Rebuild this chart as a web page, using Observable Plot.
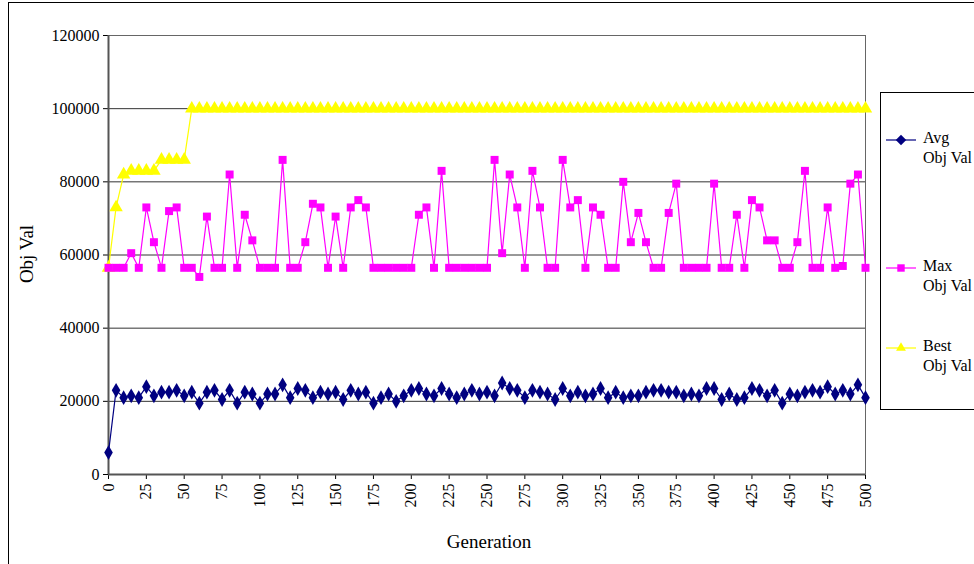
<!DOCTYPE html>
<html><head><meta charset="utf-8">
<script src="https://cdn.jsdelivr.net/npm/d3@7"></script>
<script src="https://cdn.jsdelivr.net/npm/@observablehq/plot@0.6"></script>
<style>body{margin:0;background:#fff} svg, svg text{font-family:"Liberation Serif",serif !important}</style>
</head><body>
<script>
const generations = d3.range(0, 501, 5);
const avgVals = [6000,23000,21000,21500,21000,24000,21500,22500,22500,23000,21500,22500,19500,22500,23000,20500,23000,19500,22500,22000,19500,22000,22000,24500,21000,23500,23000,21000,22500,22000,22500,20500,23000,22000,22500,19500,21000,22000,20000,21500,23000,23500,22000,21500,23500,22000,21000,22000,23000,22000,22500,21500,25000,23500,23000,21000,23000,22500,22000,20500,23500,21500,22500,21500,22000,23500,21000,22500,21000,21500,21500,22500,23000,23000,22500,22500,21500,22000,21500,23500,23500,20500,22000,20500,21000,23500,23000,21500,23000,19500,22000,21500,22500,23000,22500,24000,22000,23000,22000,24500,21000];
const maxVals = [56500,56500,56500,60500,56500,73000,63500,56500,72000,73000,56500,56500,54000,70500,56500,56500,82000,56500,71000,64000,56500,56500,56500,86000,56500,56500,63500,74000,73000,56500,70500,56500,73000,75000,73000,56500,56500,56500,56500,56500,56500,71000,73000,56500,83000,56500,56500,56500,56500,56500,56500,86000,60500,82000,73000,56500,83000,73000,56500,56500,86000,73000,75000,56500,73000,71000,56500,56500,80000,63500,71500,63500,56500,56500,71500,79500,56500,56500,56500,56500,79500,56500,56500,71000,56500,75000,73000,64000,64000,56500,56500,63500,83000,56500,56500,73000,56500,57000,79500,82000,56500];
const bestVals = [56500,73000,82000,83000,83000,83000,83000,86000,86000,86000,86000].concat(d3.range(90).map(() => 100000));
const xTicks = d3.range(0, 501, 25);
const yTicks = d3.range(0, 120001, 20000);

const series = [
  {name: "Avg", values: avgVals, color: "#000080", symbol: "diamond", r: 4.5},
  {name: "Max", values: maxVals, color: "#FF00FF", symbol: "square", r: 4.5},
  {name: "Best", values: bestVals, color: "#FFFF00", symbol: "triangle", r: 5}
];
const rows = series.flatMap(s => s.values.map((v, i) => ({g: generations[i], v, s: s.name})));

const font = "Liberation Serif, serif";
const chart = Plot.plot({
  width: 974, height: 564,
  marginLeft: 108, marginRight: 109, marginTop: 35, marginBottom: 90,
  style: {fontSize: "16px", color: "#000", background: "#fff"},
  x: {domain: [0, 500], ticks: xTicks, tickRotate: -90, label: null, tickSize: 5},
  y: {domain: [0, 120000], ticks: yTicks, label: null, tickSize: 5, tickFormat: d => String(d)},
  marks: [
    Plot.ruleY(yTicks, {stroke: "#333", strokeWidth: 1}),
    Plot.frame({stroke: "#666"}),
    Plot.ruleX([0], {stroke: "#555", strokeWidth: 2}),
    Plot.ruleY([0], {stroke: "#555", strokeWidth: 2}),
    ...series.slice().reverse().map(s => Plot.line(rows.filter(d => d.s === s.name), {x: "g", y: "v", stroke: s.color, strokeWidth: 1.2})),
    ...series.slice().reverse().map(s => Plot.dot(rows.filter(d => d.s === s.name), {x: "g", y: "v", fill: s.color, symbol: s.symbol, r: s.r, stroke: "none"}))
  ]
});
document.body.append(chart);

const svg = d3.select(chart);
// axis titles
svg.append("text").attr("x", 489).attr("y", 548).attr("text-anchor", "middle")
  .attr("font-family", font).attr("font-size", 19).text("Generation");
svg.append("text").attr("transform", "translate(33,254) rotate(-90)").attr("text-anchor", "middle")
  .attr("font-family", font).attr("font-size", 19).text("Obj Val");
// outer border and legend box, Excel style
svg.append("rect").attr("x", 8.5).attr("y", 2.5).attr("width", 980).attr("height", 600)
  .attr("fill", "none").attr("stroke", "#000");
const lg = svg.append("g");
lg.append("rect").attr("x", 880.5).attr("y", 92.5).attr("width", 100).attr("height", 317)
  .attr("fill", "#fff").attr("stroke", "#000");
const itemY = [140, 268, 348];
series.forEach((s, i) => {
  const y = itemY[i];
  lg.append("line").attr("x1", 886).attr("x2", 916).attr("y1", y).attr("y2", y).attr("stroke", s.color).attr("stroke-width", 1.2);
  const sym = d3.symbol(s.symbol === "diamond" ? d3.symbolDiamond2 : s.symbol === "square" ? d3.symbolSquare2 : d3.symbolTriangle2, 70);
  lg.append("path").attr("d", sym()).attr("transform", `translate(901,${y})`).attr("fill", s.color);
  const t = lg.append("text").attr("text-anchor", "start").attr("font-family", font).attr("font-size", 16);
  t.append("tspan").attr("x", 923).attr("y", y + 3).text(s.name);
  t.append("tspan").attr("x", 923).attr("y", y + 23).text("Obj Val");
});
</script>
</body></html>
